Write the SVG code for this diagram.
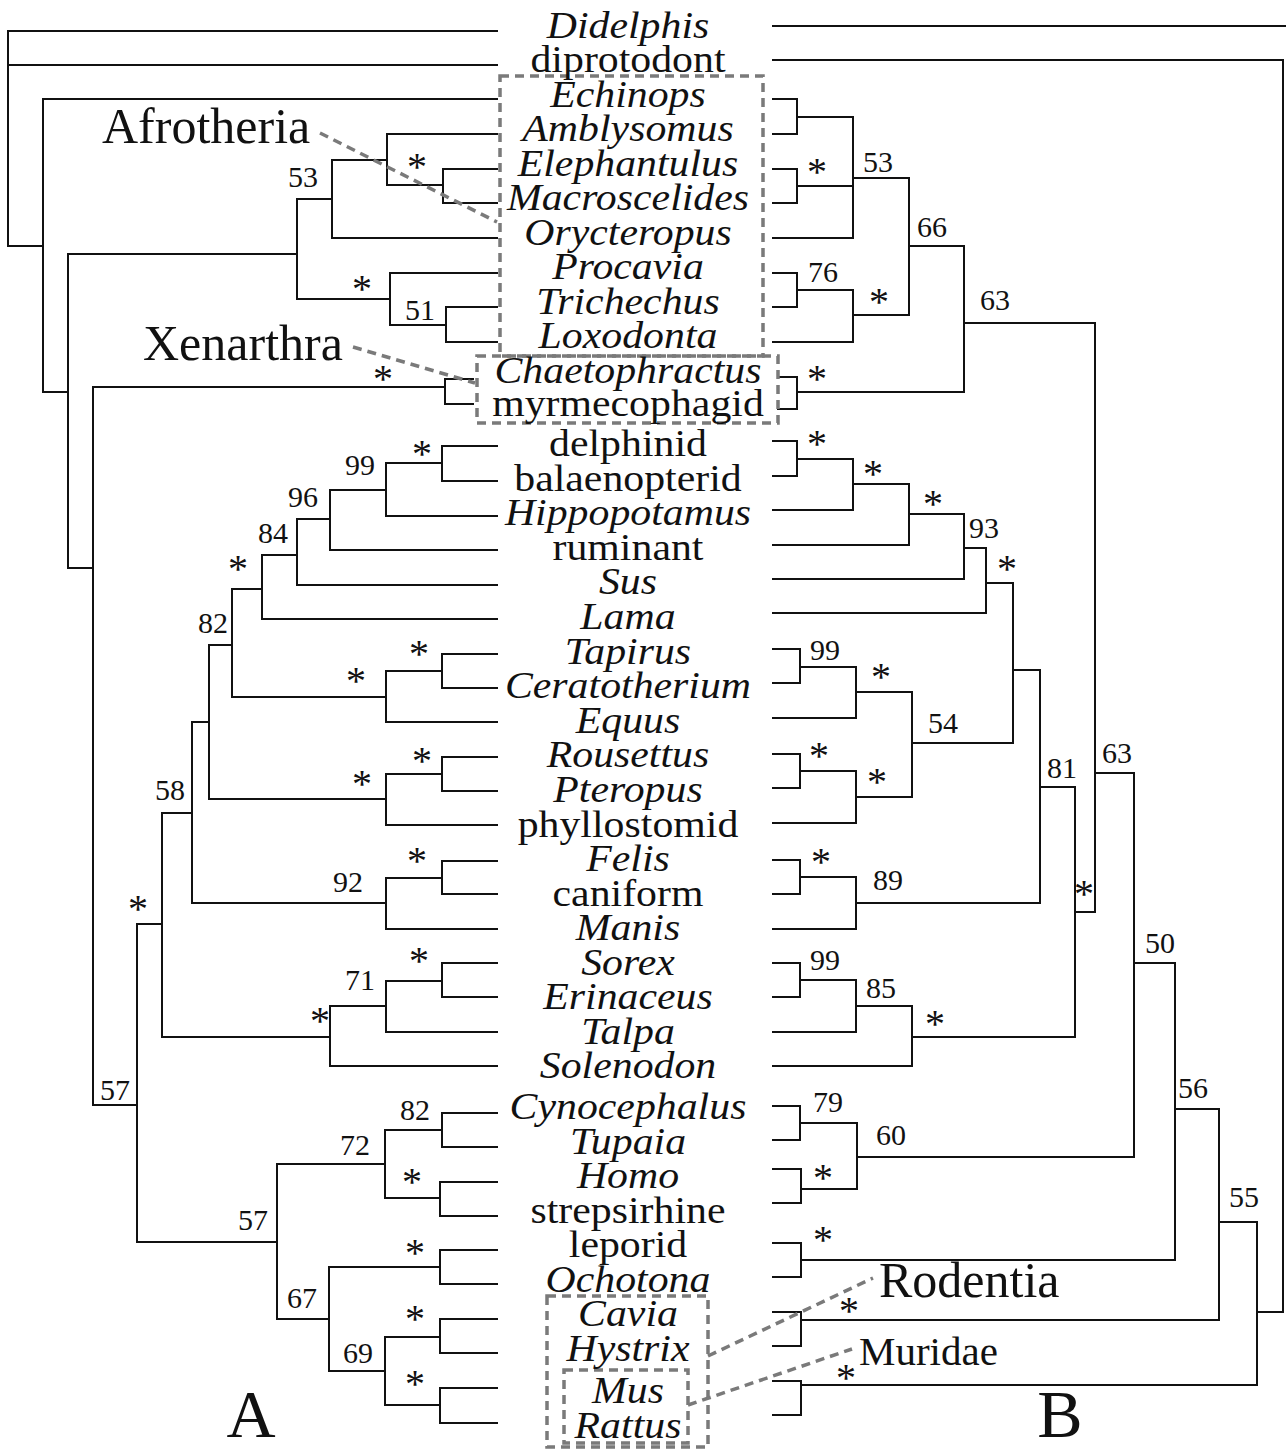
<svg xmlns="http://www.w3.org/2000/svg" width="1286" height="1452" viewBox="0 0 1286 1452">
<style>
.ln{stroke:#111;stroke-width:2;fill:none;stroke-linecap:square}
.dash{stroke:#7a7a7a;stroke-width:3.5;stroke-dasharray:9 6;fill:none}
.tx{font-family:"Liberation Serif","Times New Roman",serif;font-size:37px;text-anchor:middle;fill:#111}
.it{font-style:italic}
.num{font-family:"Liberation Serif","Times New Roman",serif;font-size:30px;text-anchor:middle;fill:#111}
.st{font-family:"Liberation Serif","Times New Roman",serif;font-size:40px;text-anchor:middle;fill:#111}
.big{font-family:"Liberation Serif","Times New Roman",serif;font-size:50px;fill:#111}
.pl{font-family:"Liberation Serif","Times New Roman",serif;font-size:68px;text-anchor:middle;fill:#111}
</style>
<rect width="1286" height="1452" fill="#fff"/>
<g id="connectors">
<path class="ln" d="M8,31H497 M8,65H497 M8,31V246 M8,246H43
M43,99V392 M43,99H497 M43,392H68
M68,254V568 M68,254H297 M68,568H93
M297,199V299 M297,199H332 M297,299H390
M332,160V238 M332,160H387 M332,238H497
M387,134V185 M387,134H497 M387,185H443
M443,169V203 M443,169H497 M443,203H497
M390,273V325 M390,273H497 M390,325H446
M446,307V342 M446,307H497 M446,342H497
M93,387V1105 M93,387H445 M93,1105H137
M445,379V404 M445,379H473 M445,404H473
M137,924V1242 M137,924H162 M137,1242H277
M162,813V1037 M162,813H192 M162,1037H330
M192,722V903 M192,722H209 M192,903H386
M209,645V799 M209,645H232 M209,799H386
M232,589V697 M232,589H262 M232,697H386
M262,555V619 M262,555H297 M262,619H497
M297,519V585 M297,519H330 M297,585H497
M330,490V550 M330,490H386 M330,550H497
M386,463V516 M386,463H442 M386,516H497
M442,446V481 M442,446H497 M442,481H497
M386,671V722 M386,671H442 M386,722H497
M442,654V688 M442,654H497 M442,688H497
M386,774V825 M386,774H442 M386,825H497
M442,757V791 M442,757H497 M442,791H497
M386,878V929 M386,878H442 M386,929H497
M442,861V894 M442,861H497 M442,894H497
M330,1006V1066 M330,1006H386 M330,1066H497
M386,981V1032 M386,981H442 M386,1032H497
M442,963V997 M442,963H497 M442,997H497
M277,1164V1319 M277,1164H385 M277,1319H329
M385,1130V1198 M385,1130H442 M385,1198H440
M442,1113V1147 M442,1113H497 M442,1147H497
M440,1182V1216 M440,1182H497 M440,1216H497
M329,1267V1371 M329,1267H440 M329,1371H385
M440,1250V1284 M440,1250H497 M440,1284H497
M385,1337V1405 M385,1337H440 M385,1405H440
M440,1319V1353 M440,1319H497 M440,1353H497
M440,1388V1423 M440,1388H497 M440,1423H497"/>
<path class="ln" d="M773,26H1286 M773,60H1283 M1283,60V1312
M773,99H797 M773,134H797 M797,99V134 M797,117H853
M773,169H797 M773,203H797 M797,169V203 M797,186H853
M773,238H853 M853,117V238 M853,178H909
M773,273H797 M773,307H797 M797,273V307 M797,290H853
M773,342H853 M853,290V342 M853,315H909
M909,178V315 M909,246H964
M778,377H797 M778,409H797 M797,377V409 M797,392H964
M964,246V392 M964,323H1095
M1095,323V912 M1095,773H1134
M773,441H797 M773,476H797 M797,441V476 M797,459H853
M773,510H853 M853,459V510 M853,484H909
M773,545H909 M909,484V545 M909,514H964
M773,579H964 M964,514V579 M964,548H986
M773,613H986 M986,548V613 M986,583H1013
M1013,583V743 M1013,670H1040
M773,649H800 M773,683H800 M800,649V683 M800,667H856
M773,718H856 M856,667V718 M856,692H912
M773,754H800 M773,788H800 M800,754V788 M800,771H856
M773,823H856 M856,771V823 M856,797H912
M912,692V797 M912,743H1013
M1040,670V903 M1040,787H1075
M773,860H800 M773,894H800 M800,860V894 M800,877H856
M773,929H856 M856,877V929 M856,903H1040
M1075,787V1037 M1075,912H1095
M773,963H800 M773,997H800 M800,963V997 M800,980H856
M773,1032H856 M856,980V1032 M856,1006H912
M773,1066H912 M912,1006V1066 M912,1037H1075
M773,1106H800 M773,1140H800 M800,1106V1140 M800,1123H857
M773,1169H801 M773,1203H801 M801,1169V1203 M801,1189H857
M857,1123V1189 M857,1157H1134
M1134,773V1157 M1134,963H1175
M773,1243H801 M773,1277H801 M801,1243V1277 M801,1260H1175
M1175,963V1260 M1175,1109H1219
M773,1312H801 M773,1346H801 M801,1312V1346 M801,1320H1219
M1219,1109V1320 M1219,1222H1257
M773,1381H801 M773,1415H801 M801,1381V1415 M801,1385H1257
M1257,1222V1385 M1257,1312H1283"/>
<line class="dash" x1="320" y1="133" x2="497" y2="222"/>
<line class="dash" x1="353" y1="347" x2="475" y2="383"/>
<line class="dash" x1="708" y1="1356" x2="873" y2="1278"/>
<line class="dash" x1="688" y1="1405" x2="852" y2="1349"/>
</g>
<g id="clade-boxes">
<rect id="box-afrotheria" class="dash" x="500" y="76" width="263" height="280"/>
<rect id="box-xenarthra" class="dash" x="477" y="356" width="301" height="67"/>
<rect id="box-rodentia" class="dash" x="547" y="1296" width="161" height="151"/>
<rect id="box-muridae" class="dash" x="564" y="1370" width="124" height="73"/>
</g>
<g id="taxa" transform="matrix(1.13,0,0,1,-81.64,0)">
<g id="t-didelphis"><text class="tx it" x="628" y="38">Didelphis</text></g>
<g id="t-diprotodont"><text class="tx" x="628" y="72">diprotodont</text></g>
<g id="t-echinops"><text class="tx it" x="628" y="107">Echinops</text></g>
<g id="t-amblysomus"><text class="tx it" x="628" y="141">Amblysomus</text></g>
<g id="t-elephantulus"><text class="tx it" x="628" y="176">Elephantulus</text></g>
<g id="t-macroscelides"><text class="tx it" x="628" y="210">Macroscelides</text></g>
<g id="t-orycteropus"><text class="tx it" x="628" y="245">Orycteropus</text></g>
<g id="t-procavia"><text class="tx it" x="628" y="279">Procavia</text></g>
<g id="t-trichechus"><text class="tx it" x="628" y="314">Trichechus</text></g>
<g id="t-loxodonta"><text class="tx it" x="628" y="348">Loxodonta</text></g>
<g id="t-chaetophractus"><text class="tx it" x="628" y="383">Chaetophractus</text></g>
<g id="t-myrmecophagid"><text class="tx" x="628" y="416">myrmecophagid</text></g>
<g id="t-delphinid"><text class="tx" x="628" y="456">delphinid</text></g>
<g id="t-balaenopterid"><text class="tx" x="628" y="491">balaenopterid</text></g>
<g id="t-hippopotamus"><text class="tx it" x="628" y="525">Hippopotamus</text></g>
<g id="t-ruminant"><text class="tx" x="628" y="560">ruminant</text></g>
<g id="t-sus"><text class="tx it" x="628" y="594">Sus</text></g>
<g id="t-lama"><text class="tx it" x="628" y="629">Lama</text></g>
<g id="t-tapirus"><text class="tx it" x="628" y="664">Tapirus</text></g>
<g id="t-ceratotherium"><text class="tx it" x="628" y="698">Ceratotherium</text></g>
<g id="t-equus"><text class="tx it" x="628" y="733">Equus</text></g>
<g id="t-rousettus"><text class="tx it" x="628" y="767">Rousettus</text></g>
<g id="t-pteropus"><text class="tx it" x="628" y="802">Pteropus</text></g>
<g id="t-phyllostomid"><text class="tx" x="628" y="837">phyllostomid</text></g>
<g id="t-felis"><text class="tx it" x="628" y="871">Felis</text></g>
<g id="t-caniform"><text class="tx" x="628" y="906">caniform</text></g>
<g id="t-manis"><text class="tx it" x="628" y="940">Manis</text></g>
<g id="t-sorex"><text class="tx it" x="628" y="975">Sorex</text></g>
<g id="t-erinaceus"><text class="tx it" x="628" y="1009">Erinaceus</text></g>
<g id="t-talpa"><text class="tx it" x="628" y="1044">Talpa</text></g>
<g id="t-solenodon"><text class="tx it" x="628" y="1078">Solenodon</text></g>
<g id="t-cynocephalus"><text class="tx it" x="628" y="1119">Cynocephalus</text></g>
<g id="t-tupaia"><text class="tx it" x="628" y="1154">Tupaia</text></g>
<g id="t-homo"><text class="tx it" x="628" y="1188">Homo</text></g>
<g id="t-strepsirhine"><text class="tx" x="628" y="1223">strepsirhine</text></g>
<g id="t-leporid"><text class="tx" x="628" y="1257">leporid</text></g>
<g id="t-ochotona"><text class="tx it" x="628" y="1292">Ochotona</text></g>
<g id="t-cavia"><text class="tx it" x="628" y="1326">Cavia</text></g>
<g id="t-hystrix"><text class="tx it" x="628" y="1361">Hystrix</text></g>
<g id="t-mus"><text class="tx it" x="628" y="1403">Mus</text></g>
<g id="t-rattus"><text class="tx it" x="628" y="1438">Rattus</text></g>
</g>
<g id="clade-labels">
<g id="l-afrotheria"><text class="big" x="102" y="143">Afrotheria</text></g>
<g id="l-xenarthra"><text class="big" x="143" y="360">Xenarthra</text></g>
<g id="l-rodentia"><text class="big" x="879" y="1297">Rodentia</text></g>
<g id="l-muridae"><text class="big" x="859" y="1365" style="font-size:41px">Muridae</text></g>
<g id="l-A"><text class="pl" x="251" y="1437">A</text></g>
<g id="l-B"><text class="pl" x="1060" y="1437">B</text></g>
</g>
<g id="support-A">
<text class="num" x="303" y="187">53</text>
<text class="st" x="417" y="180">*</text>
<text class="st" x="362" y="302">*</text>
<text class="num" x="420" y="320">51</text>
<text class="st" x="383" y="392">*</text>
<text class="st" x="422" y="467">*</text>
<text class="num" x="360" y="475">99</text>
<text class="num" x="303" y="507">96</text>
<text class="num" x="273" y="543">84</text>
<text class="st" x="238" y="582">*</text>
<text class="num" x="213" y="633">82</text>
<text class="st" x="419" y="667">*</text>
<text class="st" x="356" y="694">*</text>
<text class="st" x="422" y="774">*</text>
<text class="st" x="362" y="797">*</text>
<text class="num" x="170" y="800">58</text>
<text class="st" x="417" y="874">*</text>
<text class="num" x="348" y="892">92</text>
<text class="st" x="138" y="922">*</text>
<text class="st" x="419" y="974">*</text>
<text class="num" x="360" y="990">71</text>
<text class="st" x="320" y="1034">*</text>
<text class="num" x="115" y="1100">57</text>
<text class="num" x="415" y="1120">82</text>
<text class="num" x="355" y="1155">72</text>
<text class="st" x="412" y="1195">*</text>
<text class="num" x="253" y="1230">57</text>
<text class="st" x="415" y="1266">*</text>
<text class="num" x="302" y="1308">67</text>
<text class="st" x="415" y="1332">*</text>
<text class="num" x="358" y="1363">69</text>
<text class="st" x="415" y="1397">*</text>
</g>
<g id="support-B">
<text class="st" x="817" y="185">*</text>
<text class="num" x="878" y="172">53</text>
<text class="num" x="932" y="237">66</text>
<text class="num" x="823" y="282">76</text>
<text class="st" x="879" y="315">*</text>
<text class="num" x="995" y="310">63</text>
<text class="st" x="817" y="392">*</text>
<text class="st" x="817" y="457">*</text>
<text class="st" x="873" y="487">*</text>
<text class="st" x="933" y="517">*</text>
<text class="num" x="984" y="538">93</text>
<text class="st" x="1007" y="582">*</text>
<text class="num" x="825" y="660">99</text>
<text class="st" x="881" y="690">*</text>
<text class="num" x="943" y="733">54</text>
<text class="st" x="819" y="769">*</text>
<text class="num" x="1117" y="763">63</text>
<text class="num" x="1062" y="778">81</text>
<text class="st" x="877" y="795">*</text>
<text class="st" x="821" y="875">*</text>
<text class="num" x="888" y="890">89</text>
<text class="st" x="1084" y="907">*</text>
<text class="num" x="1160" y="953">50</text>
<text class="num" x="825" y="970">99</text>
<text class="num" x="881" y="998">85</text>
<text class="st" x="935" y="1037">*</text>
<text class="num" x="1193" y="1098">56</text>
<text class="num" x="828" y="1112">79</text>
<text class="num" x="891" y="1145">60</text>
<text class="st" x="823" y="1191">*</text>
<text class="num" x="1244" y="1207">55</text>
<text class="st" x="823" y="1253">*</text>
<text class="st" x="849" y="1324">*</text>
<text class="st" x="846" y="1391">*</text>
</g>
</svg>
